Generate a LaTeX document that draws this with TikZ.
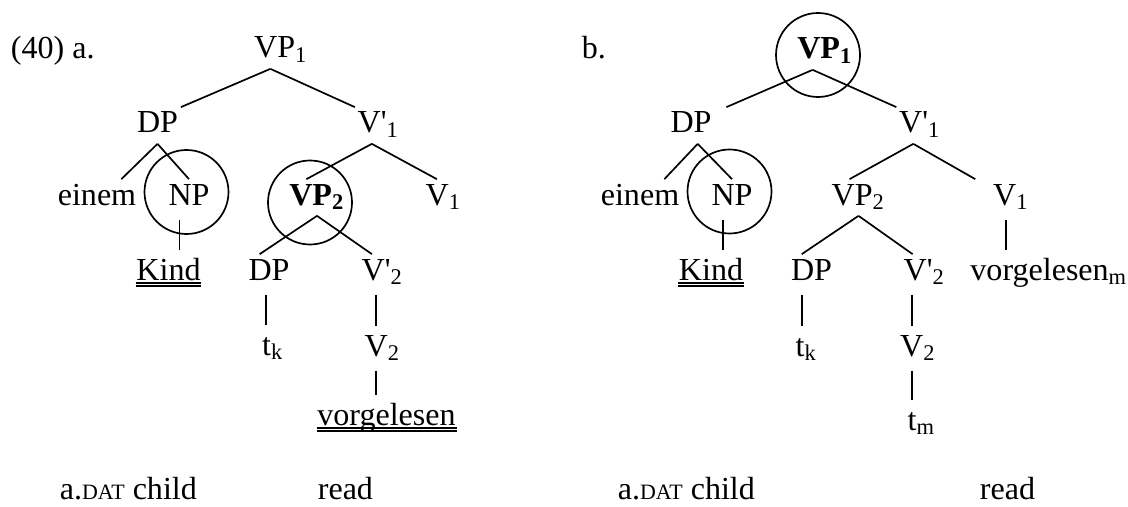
\documentclass[tikz,border=0pt]{standalone}
\usepackage{fontspec}
\setmainfont{Liberation Serif}
\usetikzlibrary{calc}
\newcommand{\dat}{{\fontsize{7.8}{9}\selectfont DAT}}
\newcommand{\apo}{\textquotesingle}
\begin{document}
\begin{tikzpicture}[x=0.0125cm,y=-0.0125cm,line width=0.6pt,font=\fontsize{11.4}{13.7}\selectfont,
	every node/.style={anchor=base,text height=0.275cm,text depth=0.0875cm,inner xsep=0.025cm,inner ysep=0.0375cm},
	lbl/.style={anchor=base west},
	stem/.style={shorten <=1.4pt,shorten >=1.4pt},
	uline/.style={line width=0.4pt}]
	\useasboundingbox (0,0) rectangle (1128,506);
	\node[lbl] (exa) at (8,59) {(40) a.};
	\node (vpa) at (281,58) {VP\textsubscript{1}};
	\node (dpa) at (157.5,133) {DP};
	\node (vba) at (378.5,133) {V\apo\textsubscript{1}};
	\node (eia) at (97,205) {einem};
	\node (npa) at (189,205) {NP};
	\node (vpba) at (317,205) {\textbf{VP\textsubscript{2}}};
	\node (va) at (443.5,205) {V\textsubscript{1}};
	\node (kia) at (168.5,280) {Kind};
	\node (dpba) at (269,280) {DP};
	\node (vbba) at (382.5,280) {V\apo\textsubscript{2}};
	\node (tka) at (273,355) {t\textsubscript{k}};
	\node (vta) at (382.5,356) {V\textsubscript{2}};
	\node (voa) at (386.5,425) {vorgelesen};
	\node[lbl] (gla) at (57,499) {a.\dat{} child};
	\node[lbl] (rda) at (315,499) {read};
	\draw (vpa.240) -- (dpa.north east);
	\draw (vpa.240) -- (vba.north west);
	\draw (dpa.south) -- (eia.37);
	\draw (dpa.south) -- (npa.north);
	\draw[stem] (npa.243) -- (npa.243 |- kia.north);
	\draw (vba.250) -- (vpba.120);
	\draw (vba.250) -- (va.110);
	\draw (vpba.south) -- (dpba.117);
	\draw (vpba.south) -- (vbba.120);
	\draw[stem] (dpba.260) -- (dpba.260 |- tka.north);
	\draw[stem] (vbba.250) -- (vbba.250 |- vta.north);
	\draw[stem] (vta.250) -- (vta.250 |- voa.north);
	\draw (186.5,192) circle (42);
	\draw (310,202.5) circle (42);
	\node[lbl] (exb) at (579,59) {b.};
	\node (vpb) at (825,59) {\textbf{VP\textsubscript{1}}};
	\node (dpb) at (691,133) {DP};
	\node (vbb) at (920,133) {V\apo\textsubscript{1}};
	\node (eib) at (640,205) {einem};
	\node (npb) at (732,205) {NP};
	\node (vpbb) at (858.5,205) {VP\textsubscript{2}};
	\node (vb) at (1011,205) {V\textsubscript{1}};
	\node (kib) at (711,280) {Kind};
	\node (dpbb) at (811.5,280) {DP};
	\node (vbbb) at (924.5,280) {V\apo\textsubscript{2}};
	\node (vob) at (1049,280) {vorgelesen\textsubscript{m}};
	\node (tkb) at (806.5,356) {t\textsubscript{k}};
	\node (vtb) at (918,356) {V\textsubscript{2}};
	\node (tmb) at (921.5,430) {t\textsubscript{m}};
	\node[lbl] (glb) at (615,499) {a.\dat{} child};
	\node[lbl] (rdb) at (977,499) {read};
	\draw (vpb.236) -- ($(dpb.north east)+(12,0)$);
	\draw (vpb.236) -- (vbb.north west);
	\draw (dpb.290) -- (eib.37);
	\draw (dpb.290) -- (npb.north);
	\draw[stem] (npb.243) -- (npb.243 |- kib.north);
	\draw (vbb.250) -- (vpbb.116);
	\draw (vbb.250) -- ($(vb.north west)+(-15,0)$);
	\draw[stem] (vb.255) -- (vb.255 |- vob.north);
	\draw (vpbb.south) -- (dpbb.118);
	\draw (vpbb.south) -- (vbbb.123);
	\draw[stem] (dpbb.242) -- (dpbb.242 |- tkb.north);
	\draw[stem] (vbbb.235) -- (vbbb.235 |- vtb.north);
	\draw[stem] (vtb.251) -- (vtb.251 |- tmb.north);
	\draw (818,55) circle (42);
	\draw (729.5,191.5) circle (42);
	\foreach \n in {kia,voa,kib}
		\foreach \d in {3,6}
			\draw[uline] ($(\n.base west)+(2,\d)$) -- ($(\n.base east)+(-2,\d)$);
\end{tikzpicture}
\end{document}
